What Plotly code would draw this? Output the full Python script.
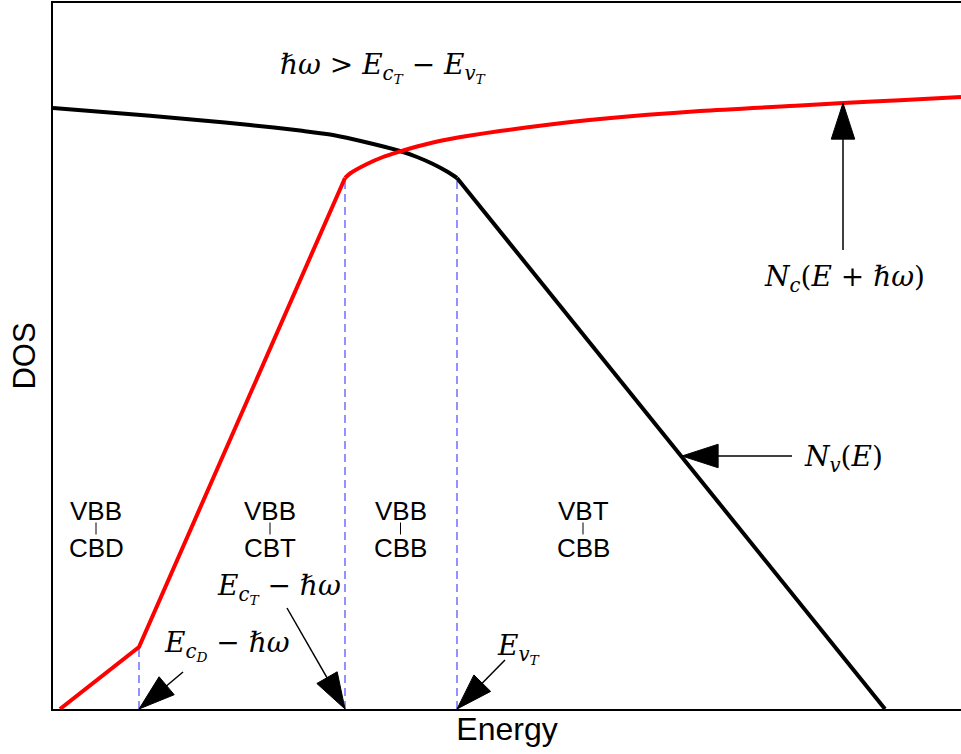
import plotly.graph_objects as go

# ---- data (arbitrary energy / DOS units) ----
# valence-band DOS N_v(E): curved top part, then straight tail
nv_top_x = [0.00, 0.47, 0.97, 1.47, 1.97, 2.47, 2.80, 3.14, 3.47, 3.64, 3.80, 3.94, 4.04]
nv_top_y = [6.01, 5.972, 5.932, 5.888, 5.84, 5.784, 5.74, 5.665, 5.58, 5.52, 5.45, 5.375, 5.31]
nv_tail_x = [4.04, 8.32]
nv_tail_y = [5.31, 0.00]

# conduction-band DOS shifted N_c(E + ħω): straight tails, then curved top part
nc_tail_x = [0.07, 0.86, 2.92]
nc_tail_y = [0.00, 0.62, 5.31]
nc_top_x = [2.92, 2.97, 3.14, 3.30, 3.47, 3.64, 3.80, 3.97, 4.14, 4.47, 4.97, 5.47, 6.47, 7.47, 7.90, 8.47, 9.08]
nc_top_y = [5.31, 5.355, 5.45, 5.52, 5.575, 5.625, 5.665, 5.70, 5.73, 5.78, 5.845, 5.90, 5.98, 6.035, 6.06, 6.087, 6.12]

# band-edge markers (energy, DOS height reached)
edge_x = [0.86, 2.92, 4.04]
edge_top = [0.62, 5.31, 5.31]

# region labels
region_x = [0.43, 2.17, 3.475, 5.30]
region_top = ["VBB", "VBB", "VBB", "VBT"]
region_bot = ["CBD", "CBT", "CBB", "CBB"]
region_top_y = 1.985
region_bot_y = 1.615

# annotated arrows
arrow_text = [
    "<i>N</i><sub><i>c</i></sub>(<i>E</i> + <i>ℏω</i>)",
    "<i>N</i><sub><i>v</i></sub>(<i>E</i>)",
    "<i>E</i><sub><i>c</i><sub><i>D</i></sub></sub> − <i>ℏω</i>",
    "<i>E</i><sub><i>c</i><sub><i>T</i></sub></sub> − <i>ℏω</i>",
    "<i>E</i><sub><i>v</i><sub><i>T</i></sub></sub>",
]
arrow_text_x = [7.91, 7.90, 1.74, 2.26, 4.65]
arrow_text_y = [4.31, 2.51, 0.64, 1.21, 0.61]
arrow_tail_x = [7.90, 7.39, 1.30, 2.34, 4.52]
arrow_tail_y = [4.59, 2.53, 0.37, 1.01, 0.49]
arrow_tip_x = [7.90, 6.29, 0.86, 2.92, 4.04]
arrow_tip_y = [6.06, 2.53, 0.00, 0.00, 0.00]

title_text = "<i>ℏω</i> > <i>E</i><sub><i>c</i><sub><i>T</i></sub></sub> − <i>E</i><sub><i>v</i><sub><i>T</i></sub></sub>"
title_x, title_y = 3.30, 6.42

X_RANGE = [0, 9.08]
Y_RANGE = [0, 7.06]

MATH_FONT = dict(family="DejaVu Serif, serif", size=28, color="black")
SANS_FONT = dict(family="Liberation Sans, Arial, sans-serif", size=26, color="black")
AXIS_FONT = dict(family="Liberation Sans, Arial, sans-serif", size=32, color="black")

fig = go.Figure()

# dashed band edge lines
for ex, et in zip(edge_x, edge_top):
    fig.add_trace(go.Scatter(x=[ex, ex], y=[0, et], mode="lines",
                             line=dict(color="#3a3aff", width=1.1, dash="8px,5px"),
                             showlegend=False, hoverinfo="skip"))

fig.add_trace(go.Scatter(x=nv_top_x, y=nv_top_y, mode="lines", name="N_v(E)",
                         line=dict(color="black", width=4, shape="spline", smoothing=0.8),
                         showlegend=False))
fig.add_trace(go.Scatter(x=nv_tail_x, y=nv_tail_y, mode="lines", name="N_v(E)",
                         line=dict(color="black", width=4), showlegend=False))
fig.add_trace(go.Scatter(x=nc_tail_x, y=nc_tail_y, mode="lines", name="N_c(E+ħω)",
                         line=dict(color="#ff0000", width=4), showlegend=False))
fig.add_trace(go.Scatter(x=nc_top_x, y=nc_top_y, mode="lines", name="N_c(E+ħω)",
                         line=dict(color="#ff0000", width=4, shape="spline", smoothing=0.8),
                         showlegend=False))

# arrows: shaft + arrow-shaped marker at the tip
for tx, ty, hx, hy in zip(arrow_tail_x, arrow_tail_y, arrow_tip_x, arrow_tip_y):
    fig.add_trace(go.Scatter(x=[tx, hx], y=[ty, hy], mode="lines+markers",
                             line=dict(color="#000000", width=1.5),
                             marker=dict(symbol="arrow", size=[0, 38], angleref="previous",
                                         color="#000000", opacity=1,
                                         line=dict(width=1, color="#000000")),
                             showlegend=False, hoverinfo="skip"))

annotations = []
for t, x, y in zip(arrow_text, arrow_text_x, arrow_text_y):
    annotations.append(dict(x=x, y=y, text=t, showarrow=False, font=MATH_FONT,
                            xanchor="center", yanchor="middle"))
annotations.append(dict(x=title_x, y=title_y, text=title_text, showarrow=False,
                        font=MATH_FONT, xanchor="center", yanchor="middle"))

shapes = []
for rx, a, b in zip(region_x, region_top, region_bot):
    annotations.append(dict(x=rx, y=region_top_y, text=a, showarrow=False, font=SANS_FONT,
                            xanchor="center", yanchor="middle"))
    annotations.append(dict(x=rx, y=region_bot_y, text=b, showarrow=False, font=SANS_FONT,
                            xanchor="center", yanchor="middle"))
    shapes.append(dict(type="line", x0=rx, x1=rx, y0=region_top_y - 0.12, y1=region_bot_y + 0.13,
                       line=dict(color="black", width=1)))

fig.update_layout(
    width=961, height=754,
    margin=dict(l=53, r=0, t=3, b=45),
    paper_bgcolor="white", plot_bgcolor="white",
    annotations=annotations, shapes=shapes,
    showlegend=False,
)
fig.update_xaxes(range=X_RANGE, showgrid=False, zeroline=False, showticklabels=False,
                 ticks="", showline=True, linecolor="black", linewidth=2, mirror=True,
                 title=dict(text="Energy", font=AXIS_FONT, standoff=8))
fig.update_yaxes(range=Y_RANGE, showgrid=False, zeroline=False, showticklabels=False,
                 ticks="", showline=True, linecolor="black", linewidth=2, mirror=False,
                 title=dict(text="DOS", font=dict(AXIS_FONT, size=31), standoff=6))

fig.write_html("out.html")
